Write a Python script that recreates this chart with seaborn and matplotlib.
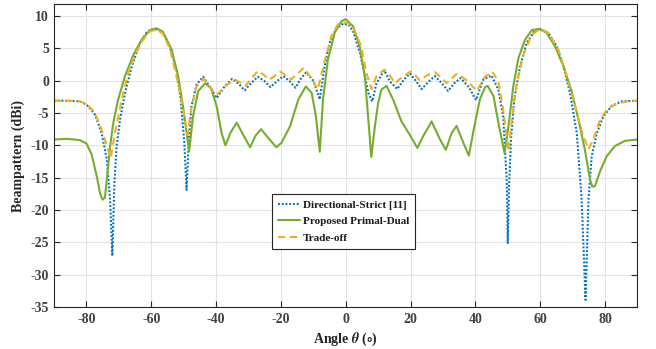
import numpy as np
import pandas as pd
import matplotlib
matplotlib.use("Agg")
import matplotlib.pyplot as plt
import seaborn as sns

# ---------------- data ----------------
strict_deg = [-90, -86, -82, -80, -78.5, -77.3, -75.3, -73.7, -72.7, -72.0, -71.4, -70.7, -69.6, -68.1,
              -66.0, -63.5, -61.5, -60.4, -58.9, -57.5, -56.3, -54.3, -52.2, -50.9, -49.8, -49.1, -48.4,
              -47.6, -46.0, -44.0, -42.0, -39.8, -37.5, -35.0, -33.0, -31.2, -29.0, -27.1, -25.0, -23.2,
              -21.0, -19.2, -17.3, -15.5, -14.0, -12.2, -10.0, -8.0, -6.5, -5.0, -2.9, -0.8, 1.0, 2.3,
              4.4, 5.9, 7.0, 8.2, 9.5, 11.9, 13.6, 15.9, 18.0, 19.8, 21.6, 23.4, 25.5, 27.5, 29.5, 31.6,
              33.5, 35.5, 38.0, 40.2, 42.4, 45.0, 47.1, 48.6, 49.7, 50.0, 50.4, 51.0, 52.0, 53.8, 55.8,
              58.4, 60.0, 62.5, 65.1, 67.2, 69.2, 71.3, 72.8, 74.0, 74.9, 75.9, 77.5, 79.5, 82.1, 85.2, 90]
strict_db = [-3.1, -3.1, -3.2, -3.7, -4.5, -5.3, -8.1, -12.2, -18.4, -27.1, -16.3, -10.2, -6.0, -1.9,
             2.2, 5.8, 7.4, 7.8, 8.0, 7.8, 7.4, 5.3, 1.7, -2.9, -9.6, -16.9, -9.1,
             -4.0, -0.6, 0.6, -0.9, -2.7, -1.0, 0.3, -0.5, -1.5, -0.3, 0.6, -0.1, -1.0,
             0.0, 0.7, -0.1, -1.1, 0.2, 1.3, 0.0, -2.9, 2.2, 5.8, 8.1, 8.8, 8.6, 7.6,
             4.3, 0.7, -1.9, -3.2, -0.4, 1.6, -0.1, -1.3, 0.2, 1.1, 0.0, -1.3, -0.2, 0.7, -0.3, -1.6,
             -0.4, 0.4, -1.0, -3.0, 0.15, 0.8, -1.4, -5.5, -15.8, -25.1, -16.3, -9.1, -2.9, 2.2, 5.8,
             7.8, 8.0, 7.4, 5.3, 2.2, -1.9, -8.1, -18.4, -33.9, -18.4, -11.7, -8.1, -5.5, -3.9, -3.2, -3.1]

primal_deg = [-90, -86, -84, -82, -80, -78.4, -76.8, -75.8, -75.0, -74.3, -73.7, -72.7, -71.7, -70.2,
              -68.1, -65.5, -63.0, -60.4, -58.4, -56.5, -53.7, -51.7, -50.2, -48.3, -47.1, -45.5, -43.3,
              -41.5, -39.8, -38.3, -37.1, -35.5, -33.6, -31.5, -29.5, -27.8, -26.1, -24.0, -21.4, -19.8,
              -17.2, -14.6, -12.3, -10.5, -9.2, -8.0, -7.0, -5.5, -3.4, -1.3, 0.0, 2.3, 4.3, 5.9, 6.9,
              7.9, 9.0, 10.0, 11.0, 12.6, 14.6, 17.2, 19.8, 22.1, 23.9, 26.5, 29.1, 30.9, 32.7, 34.2,
              36.3, 38.0, 39.6, 41.4, 43.0, 43.8, 45.6, 47.1, 49.0, 50.2, 51.7, 53.3, 55.3, 57.4, 59.7,
              62.0, 64.6, 67.2, 69.7, 71.8, 73.8, 75.4, 76.1, 76.9, 78.5, 80.5, 83.1, 86.2, 90]
primal_db = [-9.1, -9.0, -9.1, -9.2, -9.7, -11.4, -14.8, -17.4, -18.4, -18.1, -15.3, -10.2, -6.5, -2.9,
             0.7, 4.0, 6.3, 7.8, 8.1, 7.6, 4.8, 0.7, -4.0, -10.9, -5.5, -1.6, -0.4,
             -1.2, -4.0, -8.1, -10.0, -8.0, -6.5, -8.5, -10.3, -8.5, -7.5, -8.8, -10.3, -9.6,
             -7.1, -2.9, -0.9, -1.9, -5.5, -11.0, -2.9, 3.2, 7.4, 9.2, 9.5, 8.4, 5.3, 0.7, -5.5,
             -11.8, -7.1, -3.5, -1.4, -0.8, -2.9, -6.3, -8.4, -10.4, -8.6, -6.3, -9.1, -10.7, -8.1, -7.0,
             -9.6, -11.6, -7.3, -2.9, -1.0, -0.8, -2.4, -6.5, -11.2, -7.1, -0.9, 3.5, 6.3, 7.8, 8.0,
             7.4, 5.3, 2.2, -1.6, -6.0, -10.7, -15.3, -16.4, -16.3, -14.0, -11.7, -10.1, -9.3, -9.1]

trade_deg = [-90, -86, -82, -80, -78, -76.5, -75.3, -73.7, -72.5, -71.2, -69.1, -67.1, -65, -63, -60.5,
             -58.4, -56.5, -54.3, -51.7, -49.8, -48.8, -47.6, -46.0, -43.8, -42.0, -39.8, -37.0, -34.3,
             -32.5, -30.9, -29.0, -27.1, -25.3, -23.5, -22.0, -20.2, -18.5, -16.8, -15.0, -12.9, -10.8,
             -8.6, -6.5, -4.4, -2.4, 0.0, 1.5, 2.3, 4.6, 6.4, 8.0, 9.5, 11.9, 13.6, 15.2, 17.5, 20.0,
             21.5, 22.9, 25.0, 27.5, 29.5, 31.1, 32.8, 34.4, 37.5, 40.4, 43.0, 45.2, 47.1, 48.6, 50.2,
             51.4, 52.8, 54.8, 57.4, 60.0, 62.5, 65.6, 68.2, 70.8, 73.0, 74.9, 76.4, 78.5, 81, 84.1, 87, 90]
trade_db = [-3.1, -3.1, -3.2, -3.6, -4.6, -6.0, -7.6, -10.0, -12.0, -8.1, -2.9, 1.2, 4.0, 6.0, 7.6,
            7.9, 7.3, 5.0, -0.4, -5.5, -8.4, -4.2, -0.9, 0.3, -1.0, -2.2, -0.8, 0.2,
            -0.3, -0.8, 0.4, 1.5, 0.9, 0.15, 0.7, 1.4, 0.8, 0.2, 1.0, 2.0, 0.5,
            -1.3, 3.0, 6.9, 8.7, 9.0, 8.7, 8.1, 5.6, 1.2, -1.3, 0.7, 1.7, 0.8, -0.4, 0.6, 1.4,
            0.8, 0.05, 0.8, 1.3, 0.5, -0.4, 0.4, 1.1, 0.0, -1.6, 0.6, 1.4, -0.1, -4.5, -10.9,
            -5.5, -0.4, 4.0, 7.1, 8.0, 7.4, 4.8, 0.7, -4.0, -8.1, -10.6, -9.1, -6.0, -4.2, -3.5, -3.2, -3.1]

labels = ["Directional-Strict [11]", "Proposed Primal-Dual", "Trade-off"]
x_ticks = [-80, -60, -40, -20, 0, 20, 40, 60, 80]
y_ticks = [-35, -30, -25, -20, -15, -10, -5, 0, 5, 10]

# ---------------- style ----------------
sns.set_theme(style="whitegrid")
plt.rcParams.update({
    "font.family": ["Liberation Serif", "DejaVu Serif"],
    "font.weight": "bold",
    "axes.labelweight": "bold",
    "mathtext.fontset": "stix",
})

fig = plt.figure(figsize=(6.56, 3.49), dpi=100)
ax = fig.add_axes([54 / 656, 1 - 307 / 349, 583.4 / 656, 303 / 349])
ax.set_facecolor("white")

c_blue, c_green, c_orange = "#0072BD", "#77AC30", "#EDB120"

sns.lineplot(x=strict_deg, y=strict_db, ax=ax, color=c_blue, lw=1.5, estimator=None, sort=False,
             label=labels[0], linestyle=(0, (0.9, 0.9)))
sns.lineplot(x=primal_deg, y=primal_db, ax=ax, color=c_green, lw=1.5, estimator=None, sort=False,
             label=labels[1])
sns.lineplot(x=trade_deg, y=trade_db, ax=ax, color=c_orange, lw=1.5, estimator=None, sort=False,
             label=labels[2], linestyle=(0, (3.5, 2.2)))

ax.set_xlim(-90, 90)
ax.set_ylim(-35, 11.85)
ax.set_xticks(x_ticks)
ax.set_yticks(y_ticks)
ax.set_xticklabels([str(t) for t in x_ticks])
ax.set_yticklabels([str(t) for t in y_ticks])

tick_col = "#404040"
ax.grid(True, color="#e3e3e3", lw=0.8)
for s in ax.spines.values():
    s.set_visible(True)
    s.set_color("#262626")
    s.set_linewidth(0.8)
ax.tick_params(direction="in", length=4, width=0.8, colors="#262626", labelcolor=tick_col,
               labelsize=10, top=True, right=True, bottom=True, left=True)
ax.tick_params(axis="x", pad=4.5)
ax.tick_params(axis="y", pad=3.5)
for lab in ax.get_xticklabels() + ax.get_yticklabels():
    lab.set_fontweight("bold")

ax.set_xlabel(r"Angle $\theta$ ($\circ$)", fontsize=10, color="#262626", fontweight="bold")
ax.set_ylabel("Beampattern (dBi)", fontsize=10, color="#262626", fontweight="bold")
ax.xaxis.set_label_coords(0.5, -0.078)
ax.yaxis.set_label_coords(-0.05, 0.5)

leg = ax.legend(loc="upper left", bbox_to_anchor=(0.3737, 0.373), fontsize=8, frameon=True,
                fancybox=False, framealpha=1, edgecolor="#262626", handlelength=2.0,
                handletextpad=0.2, labelspacing=0.6, borderpad=0.55, borderaxespad=0)
leg.get_frame().set_linewidth(0.8)
for t in leg.get_texts():
    t.set_fontweight("bold")
    t.set_color("#1a1a1a")

fig.savefig("out.png", dpi=100)
